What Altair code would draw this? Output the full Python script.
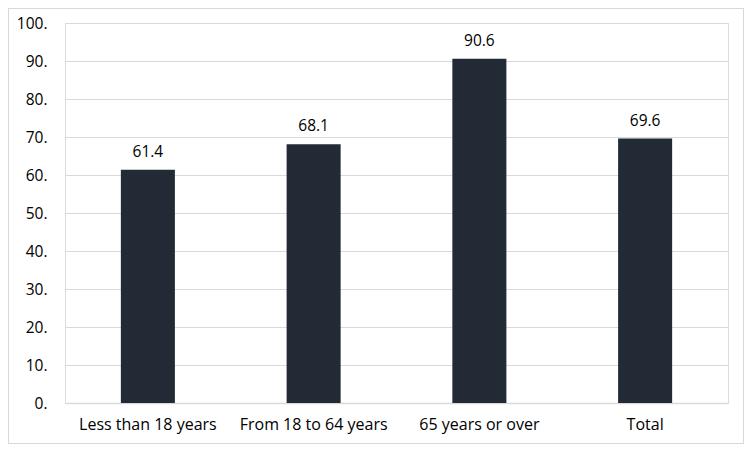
import altair as alt
import pandas as pd

categories = ["Less than 18 years", "From 18 to 64 years", "65 years or over", "Total"]
values = [61.4, 68.1, 90.6, 69.6]

df = pd.DataFrame({"category": categories, "value": values})

FONT = "Open Sans"
W, H = 663, 380

base = alt.Chart(df).encode(
    x=alt.X("category:N", sort=categories, title=None,
            scale=alt.Scale(paddingInner=0.674, paddingOuter=0.337),
            axis=alt.Axis(labelAngle=0, labelPadding=13, ticks=False, domain=True,
                          domainColor="#d9d9d9", domainWidth=1.5,
                          labelFont=FONT, labelFontSize=16, labelColor="#000000")),
    y=alt.Y("value:Q", title=None,
            scale=alt.Scale(domain=[0, 100], nice=False),
            axis=alt.Axis(values=list(range(0, 101, 10)), labelExpr="datum.value + '.'",
                          ticks=False, domain=False, labelPadding=18,
                          gridColor="#d9d9d9", gridWidth=1,
                          labelFont=FONT, labelFontSize=15.5, labelColor="#000000")),
)

bars = base.mark_bar(color="#222a35")
labels = base.mark_text(baseline="bottom", dy=-10, font=FONT, fontSize=15.5, color="#000000").encode(
    text=alt.Text("value:Q", format=".1f"))

frame = alt.Chart(df).mark_rect(fill=None, stroke="#d9d9d9", strokeWidth=1).encode(
    x=alt.value(-56.5), x2=alt.value(W + 15.5), y=alt.value(-14.5), y2=alt.value(H + 40.5))

chart = alt.layer(bars, labels, frame).properties(
    width=W, height=H,
    autosize=alt.AutoSizeParams(type="none"),
    padding={"left": 57, "top": 15, "right": 16, "bottom": 41},
).configure_view(stroke=None).configure(background="white")

chart.save("out.html", embed_options={"renderer": "svg", "actions": False})
